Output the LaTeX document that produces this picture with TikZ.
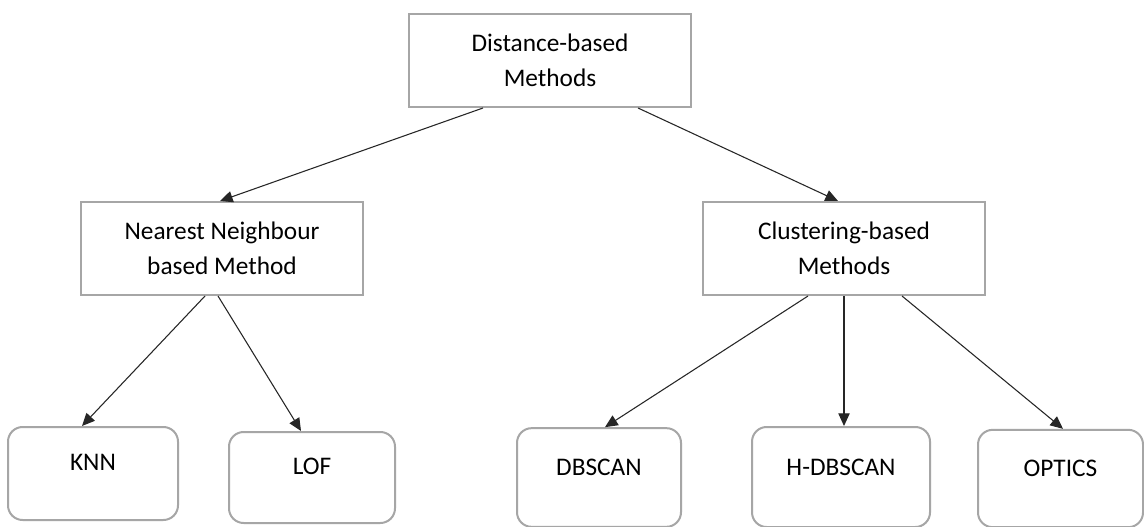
\documentclass[tikz,border=0pt]{standalone}
\usepackage{fontspec}
\setmainfont{Carlito}
\usetikzlibrary{arrows.meta,calc}
\begin{document}
\begin{tikzpicture}[x=0.75pt,y=-0.75pt,
  sqbox/.style={draw=black!35, line width=1.5pt, rectangle, align=center,
    font=\fontsize{19}{26}\selectfont, inner sep=0pt},
  rbox/.style={draw=black!35, line width=1.5pt, rectangle, rounded corners=11pt,
    align=center, font=\fontsize{19}{26}\selectfont, inner sep=0pt,
    text height=12pt, text depth=16pt},
  conn/.style={draw=black!85, line width=0.8pt, -{Triangle[length=9.5pt,width=8.5pt]}}]
\useasboundingbox (0,0) rectangle (1144,527);
\fill[white] (0,0) rectangle (1144,527);

\node[sqbox, minimum width=211.5pt, minimum height=69.75pt] (top) at (550,60.5) {Distance-based\\Methods};
\node[sqbox, minimum width=211.5pt, minimum height=69.75pt] (nn) at (222,248.5) {Nearest Neighbour\\based Method};
\node[sqbox, minimum width=211.5pt, minimum height=69.75pt] (cb) at (844,248.5) {Clustering-based\\Methods};

\node[rbox, minimum width=127.5pt, minimum height=69.75pt] (knn) at (93,473.5) {KNN};
\node[rbox, minimum width=124.5pt, minimum height=68.25pt] (lof) at (312,477.5) {LOF};
\node[rbox, minimum width=123pt, minimum height=74pt, text depth=15pt, text height=12pt] (dbscan) at (599,477.5) {DBSCAN};
\node[rbox, minimum width=133.5pt, minimum height=75pt, text depth=15pt, text height=12pt] (hdbscan) at (841,477) {H-DBSCAN};
\node[rbox, minimum width=123.75pt, minimum height=73pt, text depth=15pt, text height=12pt] (optics) at (1060.5,478.5) {OPTICS};

\draw[conn] ($(top.south)+(-67,0)$) -- ($(nn.north)+(-2,0)$);
\draw[conn] ($(top.south)+(88,0)$) -- ($(cb.north)+(-6,0)$);
\draw[conn] ($(nn.south)+(-17,0)$) -- ($(knn.north)+(-11,0)$);
\draw[conn] ($(nn.south)+(-4,0)$) -- ($(lof.north)+(-11,0)$);
\draw[conn] ($(cb.south)+(-36,0)$) -- ($(dbscan.north)+(6,0)$);
\draw[conn] (cb.south) -- (cb.south |- hdbscan.north);
\draw[conn] ($(cb.south)+(58,0)$) -- ($(optics.north)+(2.5,0)$);
\end{tikzpicture}
\end{document}
